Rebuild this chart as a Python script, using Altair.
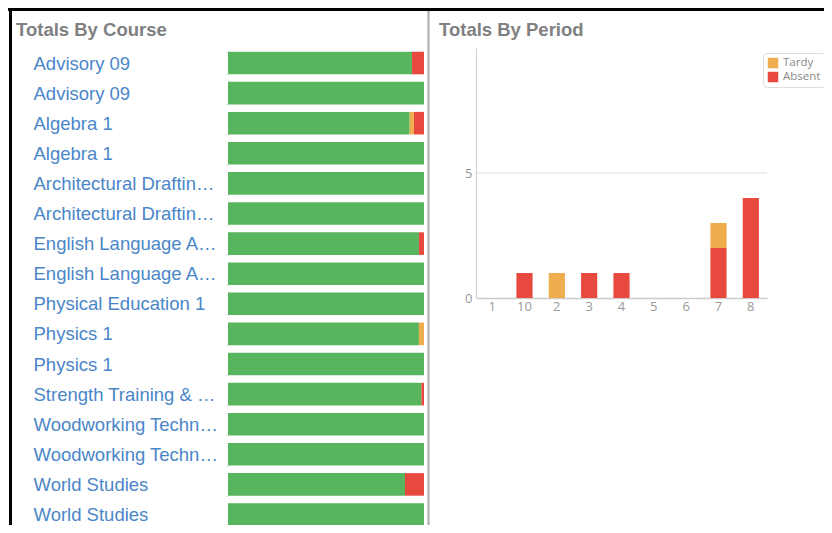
import json
import altair as alt
import pandas as pd

# ---------------- data ----------------
courses = [
    "Advisory 09", "Advisory 09", "Algebra 1", "Algebra 1",
    "Architectural Drafting & Design I", "Architectural Drafting & Design I",
    "English Language Arts 9", "English Language Arts 9",
    "Physical Education 1", "Physics 1", "Physics 1",
    "Strength Training & Conditioning",
    "Woodworking Technology I", "Woodworking Technology I",
    "World Studies", "World Studies",
]
present = [93.9, 100, 92.7, 100, 100, 100, 97.4, 100, 100, 97.4, 100, 98.7, 100, 100, 90.3, 100]
tardy   = [0, 0, 2.2, 0, 0, 0, 0, 0, 0, 2.6, 0, 0, 0, 0, 0, 0]
absent  = [6.1, 0, 5.1, 0, 0, 0, 2.6, 0, 0, 0, 0, 1.3, 0, 0, 9.7, 0]

periods = ["1", "10", "2", "3", "4", "5", "6", "7", "8"]
period_absent = [0, 1, 0, 1, 1, 0, 0, 2, 4]
period_tardy  = [0, 0, 1, 0, 0, 0, 0, 1, 0]
period_ticks = [0, 5]

GREEN, ORANGE, RED = "#57b55e", "#f0ad4e", "#e8493f"

# ---------------- tables ----------------
rows = []
for i, c in enumerate(courses):
    for k, (s, v) in enumerate([("Present", present[i]), ("Tardy", tardy[i]), ("Absent", absent[i])]):
        if v > 0:
            rows.append({"idx": i, "course": c, "status": s, "value": v, "ord": k})
course_df = pd.DataFrame(rows)

prow = []
for i, p in enumerate(periods):
    if period_absent[i] > 0:
        prow.append({"period": p, "kind": "Absent", "count": period_absent[i], "ord": 0})
    if period_tardy[i] > 0:
        prow.append({"period": p, "kind": "Tardy", "count": period_tardy[i], "ord": 1})
period_df = pd.DataFrame(prow)

one = pd.DataFrame({"a": [0]})
grid_df = pd.DataFrame({"count": [5]})
label_expr = "[" + ",".join(json.dumps(c) for c in courses) + "][datum.value]"

W, H = 816, 517
# panel rectangles (pixels inside the svg)
LX0, LX1, LY0, LY1 = 220, 416, 39.95, 521.55
RX0, RX1, RY0, RY1 = 468, 759, 40, 290

# ---------------- left panel ----------------
bars_left = alt.Chart(course_df).mark_bar().encode(
    x=alt.X("value:Q", stack="normalize", axis=None,
            scale=alt.Scale(nice=False, range=[LX0, LX1])),
    y=alt.Y("idx:O",
            scale=alt.Scale(paddingInner=0.25, paddingOuter=0.125, range=[LY0, LY1]),
            axis=alt.Axis(labelExpr=label_expr, title=None, domain=False, grid=False,
                          orient="left", offset=-LX0,
                          ticks=True, tickSize=2, tickBand="extent", tickColor="#dddddd",
                          labelAlign="left", labelBaseline="middle", labelPadding=193,
                          labelFont="Liberation Sans", labelFontSize=18.5,
                          labelColor="#4a86c8", labelLimit=188)),
    color=alt.Color("status:N",
                    scale=alt.Scale(domain=["Present", "Tardy", "Absent"], range=[GREEN, ORANGE, RED]),
                    legend=None),
    order=alt.Order("ord:Q"),
)

# ---------------- right panel ----------------
right_y_scale = alt.Scale(domain=[0, 10], nice=False, range=[RY1, RY0])
right_y_axis = alt.Axis(title=None, orient="left", offset=-RX0, values=period_ticks,
                        ticks=False, grid=False, domainColor="#cccccc",
                        labelColor="#999999", labelFont="Open Sans",
                        labelFontSize=13, labelPadding=4)

grid_rule = alt.Chart(grid_df).mark_rule(color="#dddddd", strokeWidth=1).encode(
    y=alt.Y("count:Q", scale=right_y_scale, axis=right_y_axis),
    x=alt.value(RX0), x2=alt.value(RX1))

bars_right = alt.Chart(period_df).mark_bar().encode(
    x=alt.X("period:N", sort=periods,
            scale=alt.Scale(domain=periods, paddingInner=0.5, paddingOuter=0.25, range=[RX0, RX1]),
            axis=alt.Axis(title=None, orient="bottom", offset=-(H - RY1),
                          labelAngle=0, ticks=False, domainColor="#cccccc",
                          domainWidth=1.5, labelColor="#999999", labelFont="Open Sans",
                          labelFontSize=13, labelPadding=2, grid=False)),
    y=alt.Y("count:Q", stack="zero", scale=right_y_scale, axis=right_y_axis),
    color=alt.Color("kind:N",
                    scale=alt.Scale(domain=["Tardy", "Absent"], range=[ORANGE, RED]),
                    legend=alt.Legend(orient="none", legendX=RX1 - 4, legendY=45, title=None,
                                      symbolType="square", symbolSize=110,
                                      labelFont="Open Sans", labelFontSize=11.5,
                                      labelColor="#888888", strokeColor="#dddddd",
                                      fillColor="white", cornerRadius=4, padding=4,
                                      rowPadding=2, labelOffset=4)),
    order=alt.Order("ord:Q"),
)

right = alt.layer(grid_rule, bars_right)

# ---------------- decorations ----------------
top_rule = alt.Chart(one).mark_rule(color="black", strokeWidth=3).encode(
    x=alt.value(0), x2=alt.value(W), y=alt.value(1.5))
left_border = alt.Chart(one).mark_rule(color="black", strokeWidth=3).encode(
    x=alt.value(2.5), y=alt.value(0), y2=alt.value(H))
divider = alt.Chart(one).mark_rule(color="#aaaaaa", strokeWidth=2).encode(
    x=alt.value(420.5), y=alt.value(3), y2=alt.value(H))
left_title = alt.Chart(one).mark_text(
    text="Totals By Course", align="left", baseline="middle", font="Liberation Sans",
    fontSize=18.5, fontWeight="bold", color="#808080").encode(
    x=alt.value(8), y=alt.value(22))
right_title = alt.Chart(one).mark_text(
    text="Totals By Period", align="left", baseline="middle", font="Liberation Sans",
    fontSize=18.5, fontWeight="bold", color="#808080").encode(
    x=alt.value(431), y=alt.value(22))

chart = alt.layer(
    bars_left, right, top_rule, left_border, divider, left_title, right_title
).resolve_scale(
    x="independent", y="independent", color="independent"
).resolve_axis(
    x="independent", y="independent"
).resolve_legend(
    color="independent"
).properties(
    width=W, height=H, padding=0,
    autosize=alt.AutoSizeParams(type="none"),
).configure_view(stroke=None)

chart.save("out.html", embed_options={"renderer": "svg", "actions": False})
